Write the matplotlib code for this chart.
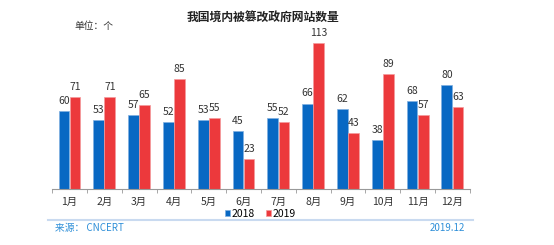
import matplotlib
matplotlib.use('Agg')
import matplotlib.pyplot as plt
import numpy as np

plt.rcParams['font.family'] = ['Noto Sans CJK SC', 'DejaVu Sans']

months = ['1月', '2月', '3月', '4月', '5月', '6月', '7月', '8月', '9月', '10月', '11月', '12月']
sites_2018 = [60, 53, 57, 52, 53, 45, 55, 66, 62, 38, 68, 80]
sites_2019 = [71, 71, 65, 85, 55, 23, 52, 113, 43, 89, 57, 63]

blue = '#0868c3'
red = '#ec393c'

fig = plt.figure(figsize=(5.54, 2.45), dpi=100)
ax = fig.add_axes([0.094, 0.229, 0.754, 0.649])

x = np.arange(len(months))
w = 0.31
b1 = ax.bar(x - 0.16, sites_2018, w, color=blue, edgecolor='#7fb0e0', linewidth=0.5, label='2018')
b2 = ax.bar(x + 0.16, sites_2019, w, color=red, edgecolor='#f49a9c', linewidth=0.5, label='2019')

# value labels above each bar
for rects, vals in [(b1, sites_2018), (b2, sites_2019)]:
    for r, v in zip(rects, vals):
        ax.text(r.get_x() + r.get_width() / 2, v + 4, str(v), ha='center', va='bottom',
                fontsize=7.5, color='#333333')

ax.set_xlim(-0.5, len(months) - 0.5)
ax.set_ylim(0, 123)
ax.set_yticks([])
ax.set_xticks(x)
ax.set_xticklabels(months, fontsize=7.5, color='#333333')
ax.set_xticks(np.arange(-0.5, len(months)), minor=True)
ax.tick_params(axis='x', which='major', length=0, pad=6)
ax.tick_params(axis='x', which='minor', length=3, color='#999999')
for s in ['top', 'right', 'left']:
    ax.spines[s].set_visible(False)
ax.spines['bottom'].set_color('#999999')

fig.text(0.475, 0.93, '我国境内被篡改政府网站数量', ha='center', va='center',
         fontsize=8.5, fontweight='bold', color='#222222')
fig.text(0.135, 0.895, '单位：个', ha='left', va='center', fontsize=7, color='#333333')

fig.legend(handles=[b1, b2], loc='center', bbox_to_anchor=(0.47, 0.128), ncol=2,
           frameon=False, fontsize=7.5, handlelength=0.5, handleheight=0.5,
           handletextpad=0.2, columnspacing=1.0)

fig.add_artist(plt.Line2D([0.087, 0.853], [0.102, 0.102], color='#c9daf0', linewidth=1.5))
fig.text(0.1, 0.07, '来源： CNCERT', ha='left', va='center', fontsize=7, color='#2f8fd8')
fig.text(0.84, 0.07, '2019.12', ha='right', va='center', fontsize=7, color='#2f8fd8')

fig.savefig('out.png', dpi=100)
